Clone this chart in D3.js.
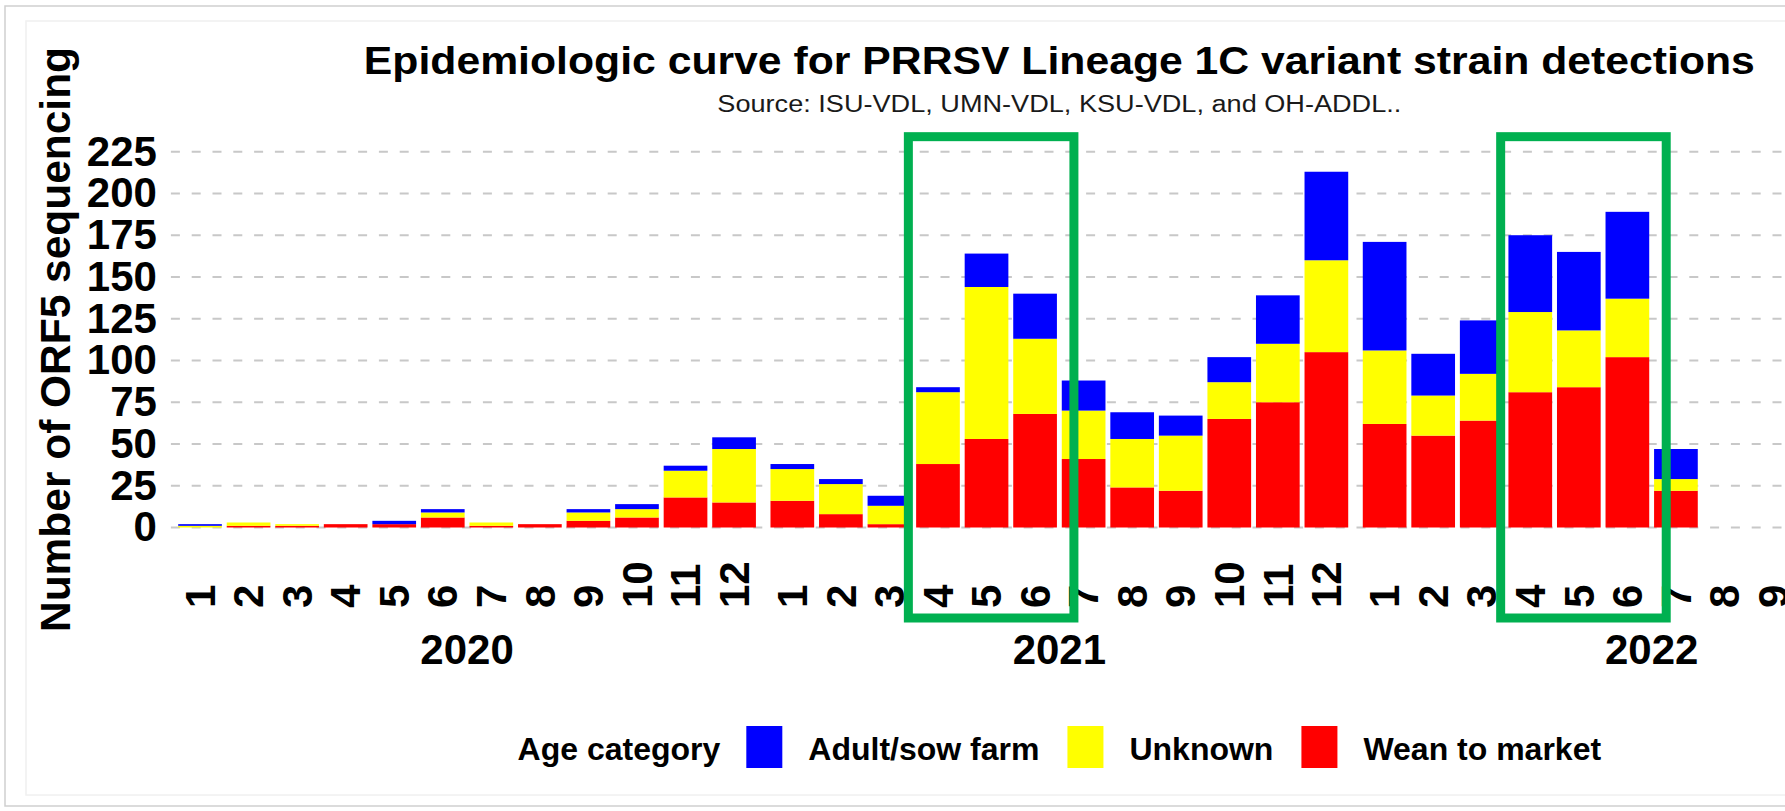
<!DOCTYPE html>
<html>
<head>
<meta charset="utf-8">
<script src="https://cdn.jsdelivr.net/npm/d3@7"></script>
<style>
  html, body { margin: 0; padding: 0; background: #fff; }
  svg { display: block; }
</style>
</head>
<body>
<div id="chart"></div>
<script>
// facets (years) and the month categories inside each facet
const years = ["2020", "2021", "2022"];
const months = ["1", "2", "3", "4", "5", "6", "7", "8", "9", "10", "11", "12"];
const ageCategories = ["Adult/sow farm", "Unknown", "Wean to market"];
const ageColors = ["#0000ff", "#ffff00", "#ff0000"];

// counts per month, one line per year (2022 has no data after July)
const weanToMarket = [
  0, 1, 1, 2, 2, 6, 1, 2, 4, 6, 18, 15,
  16, 8, 2, 38, 53, 68, 41, 24, 22, 65, 75, 105,
  62, 55, 64, 81, 84, 102, 22, 0, 0, 0, 0, 0
];
const unknown = [
  1, 2, 1, 0, 0, 3, 2, 0, 5, 5, 16, 32,
  19, 18, 11, 43, 91, 45, 29, 29, 33, 22, 35, 55,
  44, 24, 28, 48, 34, 35, 7, 0, 0, 0, 0, 0
];
const adultSow = [
  1, 0, 0, 0, 2, 2, 0, 0, 2, 3, 3, 7,
  3, 3, 6, 3, 20, 27, 18, 16, 12, 15, 29, 53,
  65, 25, 32, 46, 47, 52, 18, 0, 0, 0, 0, 0
];

const yTicks = [0, 25, 50, 75, 100, 125, 150, 175, 200, 225];

// green highlight boxes drawn over the chart
const highlights = [
  {year: "2021", from: "4", to: "6"},
  {year: "2022", from: "4", to: "6"}
];

const title = "Epidemiologic curve for PRRSV Lineage 1C variant strain detections";
const subtitle = "Source: ISU-VDL, UMN-VDL, KSU-VDL, and OH-ADDL..";
const yTitle = "Number of ORF5 sequencing";
const legendTitle = "Age category";

const width = 1785;
const height = 811;
const font = "'Liberation Sans', Arial, Helvetica, sans-serif";

// build the table
const rows = [];
years.forEach((yr, i) => {
  months.forEach((m, j) => {
    const k = i * 12 + j;
    rows.push({
      year: yr, month: m,
      "Wean to market": weanToMarket[k],
      "Unknown": unknown[k],
      "Adult/sow farm": adultSow[k]
    });
  });
});
const stackKeys = ["Wean to market", "Unknown", "Adult/sow farm"];
const series = d3.stack().keys(stackKeys)(rows);
const color = d3.scaleOrdinal(ageCategories, ageColors);

// scales: one facet per year, months inside, no spacing between facets
const fx = d3.scaleBand(years, [170.9, 1947.8]);
const x = d3.scaleBand(months, [0, fx.bandwidth()]).paddingInner(0.1).paddingOuter(0.15);
const y = d3.scaleLinear([0, 225], [527.5, 151.7]);
const cx = (yr, m) => fx(yr) + x(m) + x.bandwidth() / 2;

const svg = d3.select("#chart").append("svg")
    .attr("width", width)
    .attr("height", height)
    .style("font-family", font);

svg.append("rect").attr("width", width).attr("height", height).attr("fill", "#fff");

// slide frame around the screenshot
svg.append("rect")
    .attr("x", 26).attr("y", 21).attr("width", width).attr("height", 774)
    .attr("fill", "none").attr("stroke", "#f0f0f0").attr("stroke-width", 1.5);
svg.append("rect")
    .attr("x", 5).attr("y", 6).attr("width", width + 20).attr("height", 800)
    .attr("fill", "none").attr("stroke", "#cfcfcf").attr("stroke-width", 1.5);

const panelLeft = fx.range()[0];
const panelRight = fx.range()[1];
const centerX = (panelLeft + panelRight) / 2;

// title + subtitle
svg.append("text")
    .attr("x", centerX).attr("y", 74)
    .attr("text-anchor", "middle")
    .attr("font-size", 38).attr("font-weight", "bold").attr("fill", "#000")
    .attr("textLength", 1391).attr("lengthAdjust", "spacingAndGlyphs")
    .text(title);
svg.append("text")
    .attr("x", centerX).attr("y", 111.5)
    .attr("text-anchor", "middle")
    .attr("font-size", 23).attr("fill", "#1a1a1a")
    .attr("textLength", 684).attr("lengthAdjust", "spacingAndGlyphs")
    .text(subtitle);

// dashed horizontal grid
svg.append("g")
  .selectAll("line")
  .data(yTicks)
  .join("line")
    .attr("x1", panelLeft).attr("x2", panelRight)
    .attr("y1", d => y(d)).attr("y2", d => y(d))
    .attr("stroke", "#c8c8c8")
    .attr("stroke-width", 2)
    .attr("stroke-dasharray", "9,11.8");

// y axis labels
const gy = svg.append("g")
    .attr("transform", `translate(${panelLeft},0)`)
    .call(d3.axisLeft(y).tickValues(yTicks).tickSize(0).tickPadding(14));
gy.select(".domain").remove();
gy.selectAll("text")
    .attr("font-family", font).attr("font-size", 42).attr("font-weight", "bold").attr("fill", "#000");

svg.append("text")
    .attr("transform", "rotate(-90)")
    .attr("x", -339.5).attr("y", 70)
    .attr("text-anchor", "middle")
    .attr("font-size", 42).attr("font-weight", "bold").attr("fill", "#000")
    .attr("textLength", 585).attr("lengthAdjust", "spacingAndGlyphs")
    .text(yTitle);

// stacked bars
svg.append("g")
  .selectAll("g")
  .data(series)
  .join("g")
    .attr("fill", d => color(d.key))
  .selectAll("rect")
  .data(d => d.filter(s => s[1] > s[0]))
  .join("rect")
    .attr("x", d => fx(d.data.year) + x(d.data.month))
    .attr("width", x.bandwidth())
    .attr("y", d => y(d[1]))
    .attr("height", d => y(d[0]) - y(d[1]));

// month labels (rotated) and year strip labels under each facet
years.forEach(yr => {
  const g = svg.append("g")
      .attr("transform", `translate(${fx(yr)},608)`)
      .call(d3.axisBottom(x).tickSize(0));
  g.select(".domain").remove();
  // the screenshot is cropped on the right: drop ticks that fall past the edge
  g.selectAll(".tick").filter(m => cx(yr, m) - 12 > width).remove();
  g.selectAll("text")
      .attr("transform", "rotate(-90)")
      .attr("x", 0).attr("y", 0).attr("dy", "0.35em")
      .attr("text-anchor", "start")
      .attr("font-family", font).attr("font-size", 42).attr("font-weight", "bold").attr("fill", "#000");

  svg.append("text")
      .attr("x", fx(yr) + fx.bandwidth() / 2).attr("y", 664)
      .attr("text-anchor", "middle")
      .attr("font-size", 42).attr("font-weight", "bold").attr("fill", "#000")
      .text(yr);
});

// green highlight boxes
svg.append("g")
  .selectAll("rect")
  .data(highlights)
  .join("rect")
    .attr("x", d => cx(d.year, d.from) - 0.61 * x.step())
    .attr("width", d => cx(d.year, d.to) - cx(d.year, d.from) + 1.41 * x.step())
    .attr("y", y(234))
    .attr("height", 618 - y(234))
    .attr("fill", "none")
    .attr("stroke", "#00b050")
    .attr("stroke-width", 9);

// legend, laid out left to right and centred under the panels
const legend = svg.append("g");
let cursor = 0;
const lt = legend.append("text")
    .attr("x", cursor).attr("y", 760)
    .attr("font-size", 32).attr("font-weight", "bold").attr("fill", "#000")
    .text(legendTitle);
cursor += lt.node().getComputedTextLength() + 26;
ageCategories.forEach((cat, i) => {
  legend.append("rect")
      .attr("x", cursor).attr("y", 726)
      .attr("width", 36).attr("height", 42)
      .attr("fill", color(cat));
  cursor += 36 + 26;
  const t = legend.append("text")
      .attr("x", cursor).attr("y", 760)
      .attr("font-size", 32).attr("font-weight", "bold").attr("fill", "#000")
      .text(cat);
  cursor += t.node().getComputedTextLength();
  if (i < ageCategories.length - 1) cursor += 28;
});
legend.attr("transform", `translate(${centerX - cursor / 2},0)`);
</script>
</body>
</html>
